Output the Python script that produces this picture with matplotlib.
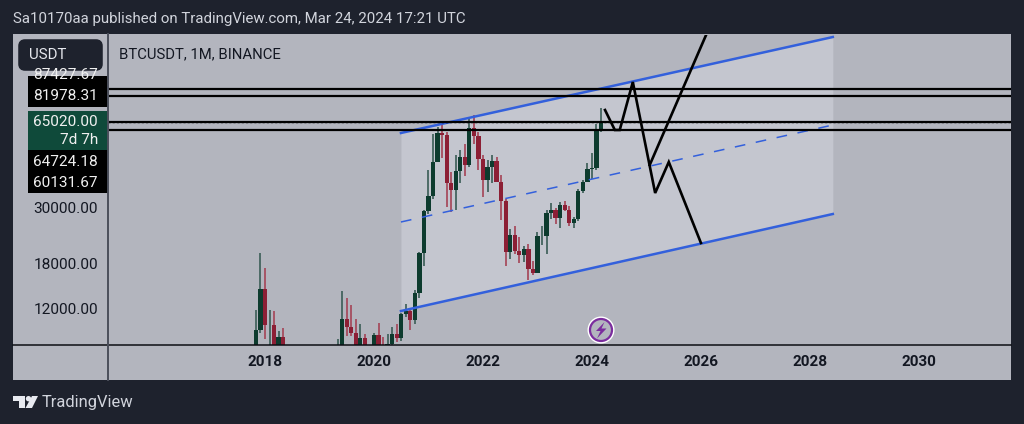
import numpy as np
import pandas as pd
import matplotlib
matplotlib.use('Agg')
import matplotlib.pyplot as plt
from matplotlib.patches import Rectangle, FancyBboxPatch, Circle, Polygon

plt.rcParams['font.family'] = ['Roboto', 'DejaVu Sans']

# monthly candles, Nov 2017 - Mar 2024
start_month = '2017-11-01'
opens = [6463, 9837, 14200, 10285, 10325, 6922, 9246, 7485, 6391, 7730, 7011, 6626, 6370, 4041,
         3702, 3434, 3816, 4102, 5320, 8574, 10854, 10080, 9588, 8289, 9140, 7541,
         7195, 9351, 8523, 6412, 8620, 9448, 9138, 11335, 11649, 10776, 13791, 19700,
         28923, 33092, 45134, 58739, 57697, 37254, 35045, 41461, 47100, 43820, 61300, 56950,
         46216, 38466, 43160, 45510, 37630, 31801, 19942, 23296, 20048, 19423, 20490, 17165,
         16541, 23125, 23141, 28465, 29233, 27210, 30472, 29232, 25940, 26962, 34639, 37723,
         42283, 42580, 61130]
highs = [11825, 19798, 17176, 11786, 11710, 9759, 10020, 7786, 8500, 7500, 7410, 7680, 6586, 4312,
         4140, 4198, 4120, 5600, 9074, 13970, 13147, 12325, 10900, 10370, 9513, 7750,
         9578, 10500, 9188, 9460, 10067, 10380, 11444, 12468, 12050, 14100, 19863, 29300,
         41950, 58352, 61844, 64854, 59500, 41330, 48168, 50500, 52920, 67000, 69000, 59053,
         47990, 45821, 48190, 47444, 40023, 32380, 24668, 25202, 22799, 21085, 21480, 18387,
         23960, 25250, 29184, 31000, 29820, 31431, 31804, 30244, 27483, 35280, 38450, 44700,
         48969, 63913, 73750]
lows = [5325, 9600, 9035, 6000, 6600, 6430, 7030, 5750, 6070, 5880, 6100, 6205, 3652, 3156,
        3349, 3373, 3670, 4067, 5350, 7440, 9320, 9320, 7710, 7300, 6515, 6435,
        6901, 8445, 3782, 6150, 8117, 8833, 8893, 11100, 9825, 10374, 13195, 17572,
        28130, 32296, 44950, 46930, 30000, 28805, 29278, 37332, 39600, 43283, 53256, 42000,
        32917, 34322, 37155, 37578, 26700, 17622, 18781, 19520, 18125, 18190, 15476, 16256,
        16499, 21351, 19549, 26942, 25811, 24800, 28861, 25166, 24900, 26538, 34097, 37615,
        38555, 41884, 59005]
closes = [9838, 14200, 10285, 10326, 6923, 9246, 7485, 6390, 7730, 7011, 6626, 6371, 4041, 3702,
          3434, 3816, 4103, 5320, 8574, 10854, 10085, 9588, 8289, 9140, 7541, 7195,
          9352, 8523, 6410, 8620, 9448, 9138, 11335, 11649, 10776, 13791, 19700, 28923,
          33092, 45135, 58740, 57694, 37253, 35045, 41461, 47100, 43824, 61299, 56950, 46216,
          38466, 43160, 45510, 37630, 31801, 19942, 23293, 20050, 19423, 20491, 17163, 16542,
          23125, 23142, 28465, 29233, 27210, 30472, 29232, 25940, 26962, 34639, 37723, 42283,
          42580, 61130, 65020]

# drawings on the chart
channel_x = [2020.495, 2028.42]
channel_top = [58730, 140300]
channel_mid = [26190, 63150]
channel_bottom = [11678, 28160]

path_x = [2024.24, 2024.42, 2024.51, 2024.75, 2025.16, 2025.41, 2026.0]
path_y = [72350, 60350, 60350, 93300, 34070, 45140, 21650]
rise_x = [2025.06, 2026.11]
rise_y = [43930, 145500]

level_solid = [87427.67, 81978.31, 64724.18, 60131.67]
level_last = 65020.00

price_ticks = [12000, 18000, 30000]
price_tick_labels = ['12000.00', '18000.00', '30000.00']
year_ticks = [2018, 2020, 2022, 2024, 2026, 2028, 2030]

# colours
bg_dark = '#1e222d'
panel = '#b3b5be'
channel_fill = '#c4c6cf'
green_body = '#0d3b2e'
green_wick = '#3f605a'
red_body = '#8c1f35'
red_wick = '#a5485a'
blue = '#3360dc'
w, h = 1024, 424


def px_axes(x0, y0, x1, y1, **kw):
    return fig.add_axes([x0 / w, 1 - y1 / h, (x1 - x0) / w, (y1 - y0) / h], **kw)


fig = plt.figure(figsize=(w / 100, h / 100), dpi=100, facecolor=bg_dark)

# back layer, panel colour
back = px_axes(0, 0, w, h, zorder=0)
back.set_xlim(0, w)
back.set_ylim(h, 0)
back.axis('off')
back.add_patch(Rectangle((13, 34), 998, 346, color=panel, lw=0))

# main chart
ax = px_axes(108, 35, 1011, 345, zorder=1, facecolor='none')
ax.set_yscale('log')
ax.set_xlim(2015.119, 2031.69)
ax.set_ylim(8578, 142900)

months = pd.date_range(start_month, periods=len(opens), freq='MS')
x = months.year + (months.month - 1) / 12
o, hi, lo, c = map(np.array, (opens, highs, lows, closes))
up = c >= o

ax.fill_between(channel_x, channel_bottom, channel_top, color=channel_fill, lw=0, zorder=1)
ax.vlines(x[up], lo[up], hi[up], color=green_wick, lw=1.25, zorder=2)
ax.vlines(x[~up], lo[~up], hi[~up], color=red_wick, lw=1.25, zorder=2)
ax.bar(x[up], (c - o)[up], bottom=o[up], width=0.078, color=green_body, lw=0, zorder=3)
ax.bar(x[~up], (o - c)[~up], bottom=c[~up], width=0.078, color=red_body, lw=0, zorder=3)

ax.plot(channel_x, channel_top, color=blue, lw=1.8, zorder=4)
ax.plot(channel_x, channel_bottom, color=blue, lw=1.8, zorder=4)
ax.plot(channel_x, channel_mid, color=blue, lw=1.1, dashes=(7, 7), zorder=4)

for level in level_solid:
    ax.axhline(level, color='black', lw=1.6, zorder=5)
ax.axhline(level_last, color='black', lw=1.0, ls=(0, (1.5, 1.5)), zorder=5)

ax.plot(path_x, path_y, color='black', lw=1.9, zorder=6, solid_joinstyle='miter')
ax.plot(rise_x, rise_y, color='black', lw=1.9, zorder=6)

ax.set_yticks(price_ticks)
ax.set_yticklabels(price_tick_labels, fontsize=11.1, color='#131722')
ax.yaxis.set_minor_locator(plt.NullLocator())
ax.yaxis.set_minor_formatter(plt.NullFormatter())
ax.set_xticks(year_ticks)
ax.set_xticklabels([str(v) for v in year_ticks], fontsize=11, fontweight='bold', color='#131722')
ax.tick_params(axis='y', length=0, pad=7.2)
ax.tick_params(axis='x', length=0, pad=7.5)
for name in ('top', 'right', 'left', 'bottom'):
    ax.spines[name].set_visible(False)

# top layer, pixel coordinates for the app chrome
top = px_axes(0, 0, w, h, zorder=2, facecolor='none')
top.set_xlim(0, w)
top.set_ylim(h, 0)
top.axis('off')

top.plot([13, 1011], [345, 345], color='#0c0e14', lw=1.1, zorder=3)
top.plot([108, 108], [34, 380], color='#4b4f5b', lw=1.4, zorder=3)

top.text(13, 19, 'Sa10170aa published on TradingView.com, Mar 24, 2024 17:21 UTC',
         color='#d1d4dc', fontsize=10.8, va='center', ha='left')
top.text(119, 54, 'BTCUSDT, 1M, BINANCE', color='#131722', fontsize=10.7, va='center')

top.add_patch(FancyBboxPatch((21, 42), 79, 26, boxstyle='round,pad=0,rounding_size=4',
                             mutation_aspect=1, fc=bg_dark, ec=bg_dark, lw=4))
top.text(29, 55, 'USDT', color='#e6e8ee', fontsize=10.8, va='center')

# price labels on the axis
box_upper = Rectangle((28, 76), 80, 31, color='black', lw=0)
box_lower = Rectangle((28, 150), 80, 43, color='black', lw=0)
box_last = Rectangle((28, 111), 80, 39, color='#0f4a3a', lw=0)
for box in (box_upper, box_lower, box_last):
    top.add_patch(box)

label_style = dict(color='#f0f0f0', fontsize=11.1, ha='right', va='center')
clipped = top.text(98, 75, f'{level_solid[0]:.2f}', **label_style)
clipped.set_clip_path(box_upper)
top.text(98, 96.5, f'{level_solid[1]:.2f}', **label_style)
top.text(98, 122, f'{level_last:.2f}', **label_style)
top.text(98, 140, '7d 7h', **label_style)
top.text(98, 162, f'{level_solid[2]:.2f}', **label_style)
top.text(98, 183, f'{level_solid[3]:.2f}', **label_style)

# purple bolt mark
top.add_patch(Circle((601, 330), 13.5, fc='white', ec='none'))
top.add_patch(Circle((601, 330), 11, fc=panel, ec='#7b2d9e', lw=1.6))
top.add_patch(Polygon([[604.5, 322], [596, 331], [600.5, 331], [597, 338.5],
                       [606.5, 328.5], [601.5, 328.5]], closed=True, fc='#7b2d9e', ec='none'))

# TradingView logo
logo = '#e8eaf0'
top.add_patch(Polygon([[13, 396], [24.5, 396], [24.5, 408], [19, 408], [19, 401], [13, 401]],
                      closed=True, fc=logo, ec='none'))
top.add_patch(Circle((28.5, 398.7), 2.7, fc=logo, ec='none'))
top.add_patch(Polygon([[32, 396], [38, 396], [32, 408], [25.5, 408]], closed=True, fc=logo, ec='none'))
top.text(42, 403, 'TradingView', color='#d1d4dc', fontsize=11.9, va='center')

fig.savefig('out.png', dpi=100, facecolor=bg_dark)
